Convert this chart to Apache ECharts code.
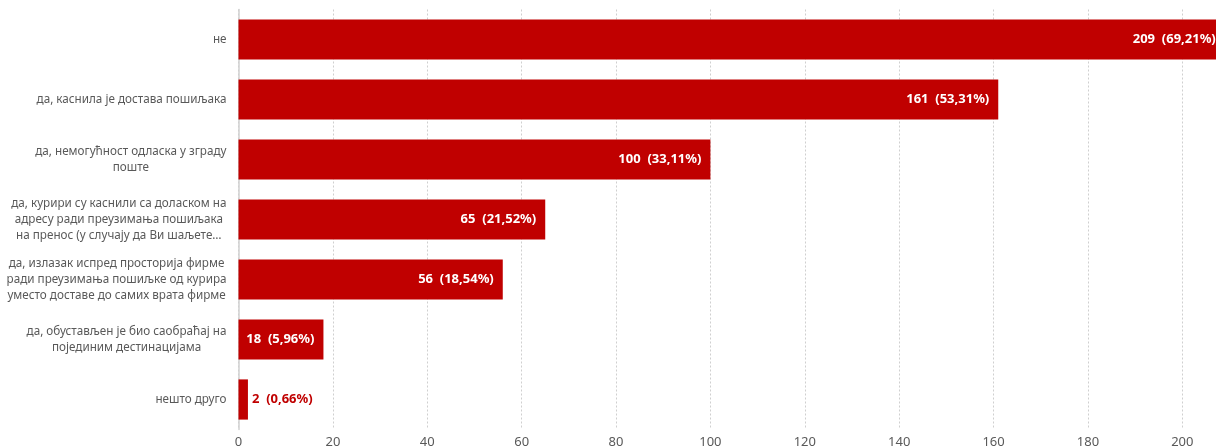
<!DOCTYPE html>
<html>
<head>
<meta charset="utf-8">
<script src="https://cdn.jsdelivr.net/npm/echarts@6/dist/echarts.min.js"></script>
<style>
  html, body { margin: 0; padding: 0; background: #ffffff; }
  #chart { width: 1216px; height: 448px; }
</style>
</head>
<body>
<div id="chart"></div>
<script>
// Answer categories (line breaks as shown next to each bar)
const categories = [
  'не',
  'да, каснила је достава пошиљака',
  'да, немогућност одласка у зграду\nпоште',
  'да, курири су каснили са доласком на\nадресу ради преузимања пошиљака\nна пренос (у случају да Ви шаљете…',
  'да, излазак испред просторија фирме\nради преузимања пошиљке од курира\nуместо доставе до самих врата фирме',
  'да, обустављен је био саобраћај на\nпојединим дестинацијама',
  'нешто друго'
];
// Number of answers per category
const counts = [209, 161, 100, 65, 56, 18, 2];
// Share of respondents, as printed
const shares = ['69,21%', '53,31%', '33,11%', '21,52%', '18,54%', '5,96%', '0,66%'];
// Value axis ticks
const axisMax = 220;
const axisStep = 20;

const RED = '#C00000';
const GREY = '#595959';
const FONT = '"Noto Sans", "Open Sans", sans-serif';

const chart = echarts.init(document.getElementById('chart'), null, { renderer: 'canvas' });

const seriesData = counts.map((v, i) => {
  const small = v < 10;
  return {
    value: v,
    label: small
      ? { position: 'right', distance: 4, color: RED }
      : { position: 'insideRight', distance: 9, color: '#ffffff' }
  };
});

chart.setOption({
  animation: false,
  backgroundColor: '#ffffff',
  grid: {
    left: 238.5, top: 9.5, width: 4.719 * axisMax, height: 420,
    containLabel: false, outerBoundsMode: 'none'
  },
  xAxis: {
    type: 'value',
    min: 0,
    max: axisMax,
    interval: axisStep,
    axisLine: { show: false },
    axisTick: { show: false },
    axisLabel: { color: GREY, fontSize: 13, fontFamily: FONT, margin: 6 },
    splitLine: { show: true, lineStyle: { color: '#cfcfcf', type: [2, 2], width: 1 } }
  },
  yAxis: {
    type: 'category',
    data: categories,
    inverse: true,
    axisLine: { show: true, lineStyle: { color: '#d0d0d0', width: 1.5 } },
    axisTick: { show: false },
    axisLabel: {
      color: GREY,
      fontSize: 11.7,
      fontFamily: FONT,
      margin: 12,
      lineHeight: 16,
      formatter: (val) => val.split('\n').map(l => '{c|' + l + '}').join('\n'),
      rich: { c: { align: 'center', color: GREY, fontSize: 11.7, fontFamily: FONT, lineHeight: 16 } }
    }
  },
  series: [{
    type: 'bar',
    data: seriesData,
    barCategoryGap: '33%',
    itemStyle: { color: RED },
    label: {
      show: true,
      fontSize: 13,
      fontWeight: 'bold',
      fontFamily: FONT,
      formatter: (p) => p.value + '  (' + shares[p.dataIndex] + ')'
    }
  }]
});
</script>
</body>
</html>
